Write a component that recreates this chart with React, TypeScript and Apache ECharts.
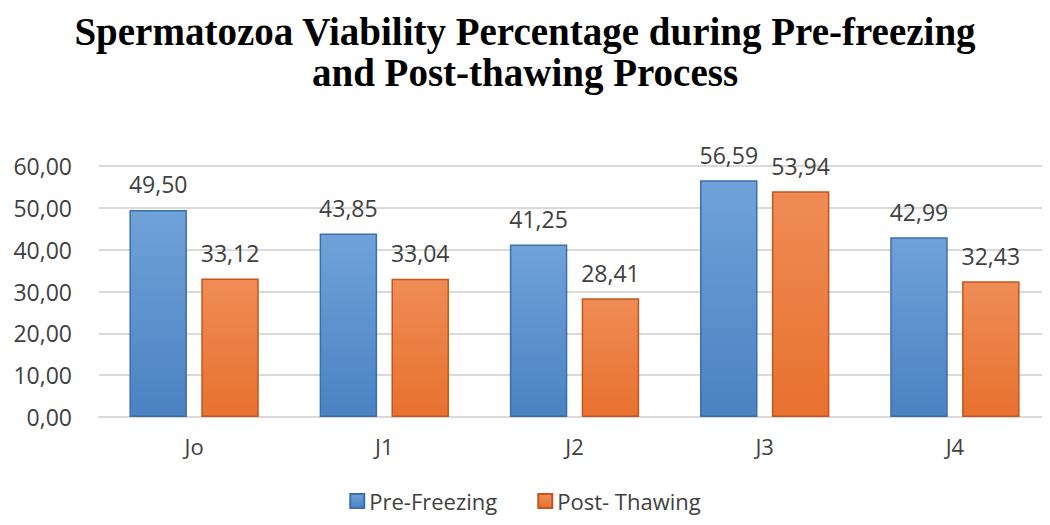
import React, { useEffect, useRef } from "react";
import * as echarts from "echarts";

const categories = ["Jo", "J1", "J2", "J3", "J4"];
const preFreezing = [49.5, 43.85, 41.25, 56.59, 42.99];
const postThawing = [33.12, 33.04, 28.41, 53.94, 32.43];
const seriesNames = ["Pre-Freezing", "Post- Thawing"];
const titleText = "Spermatozoa Viability Percentage during Pre-freezing\nand Post-thawing Process";

const fmt = (v: number) => v.toFixed(2).replace(".", ",");
const FONT = "Open Sans, sans-serif";

export default function App() {
  const ref = useRef<HTMLDivElement>(null);
  useEffect(() => {
    if (!ref.current) return;
    const chart = echarts.init(ref.current, null, { renderer: "svg" });
    const grad = (a: string, b: string) =>
      new echarts.graphic.LinearGradient(0, 0, 0, 1, [
        { offset: 0, color: a },
        { offset: 1, color: b },
      ]);
    const label = {
      show: true,
      position: "top",
      distance: 14,
      color: "#404040",
      fontSize: 23,
      fontFamily: FONT,
      formatter: (p: any) => fmt(p.value),
    };
    chart.setOption({
      animation: false,
      backgroundColor: "#ffffff",
      title: {
        text: titleText,
        left: "center",
        top: 6,
        textStyle: {
          fontFamily: "Liberation Serif, Times New Roman, serif",
          fontWeight: "bold",
          fontSize: 39,
          lineHeight: 41,
          color: "#000000",
        },
      },
      legend: {
        bottom: 8,
        left: "center",
        itemWidth: 14,
        itemHeight: 14,
        itemGap: 40,
        icon: "rect",
        textStyle: { color: "#404040", fontSize: 22, fontFamily: FONT },
        data: seriesNames,
      },
      grid: { left: 99, right: -7, top: 166, bottom: 108 },
      xAxis: {
        type: "category",
        data: categories,
        axisLine: { show: true, lineStyle: { color: "#d9d9d9", width: 2 } },
        axisTick: { show: false },
        axisLabel: { color: "#404040", fontSize: 22, margin: 18, fontFamily: FONT },
      },
      yAxis: {
        type: "value",
        min: 0,
        max: 60,
        interval: 10,
        axisLine: { show: false },
        axisTick: { show: false },
        splitLine: { lineStyle: { color: "#d9d9d9", width: 2 } },
        axisLabel: {
          color: "#404040",
          fontSize: 23,
          margin: 27,
          fontFamily: FONT,
          formatter: (v: number) => fmt(v),
        },
      },
      series: [
        {
          name: seriesNames[0],
          type: "bar",
          data: preFreezing,
          barGap: "25%",
          barCategoryGap: "32%",
          itemStyle: { color: grad("#6fa2d8", "#4a82c2"), borderColor: "#3b6eae", borderWidth: 1.5 },
          label,
        },
        {
          name: seriesNames[1],
          type: "bar",
          data: postThawing,
          itemStyle: { color: grad("#ef8c55", "#e8712f"), borderColor: "#c2561c", borderWidth: 1.5 },
          label,
        },
      ],
    });
    return () => chart.dispose();
  }, []);
  return <div ref={ref} style={{ width: 1050, height: 525, margin: -8 }} />;
}
